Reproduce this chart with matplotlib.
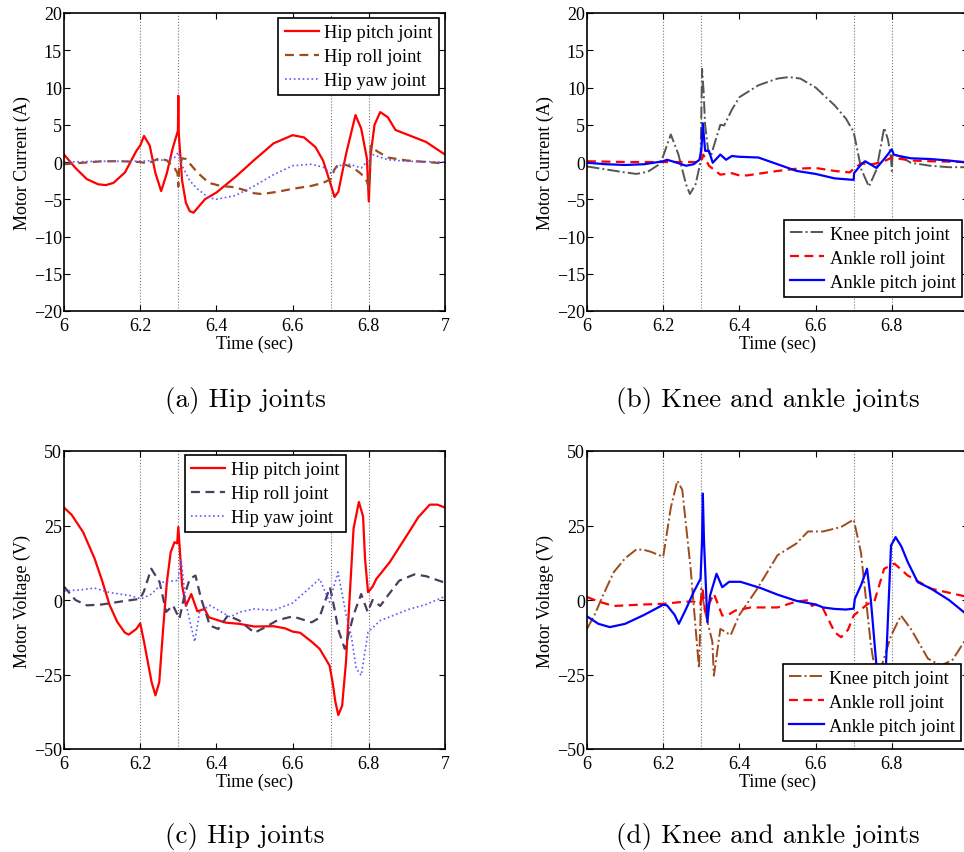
import matplotlib
matplotlib.use("Agg")
import matplotlib.pyplot as plt

plt.rcParams['font.family'] = ['Liberation Serif', 'DejaVu Serif']
plt.rcParams['axes.unicode_minus'] = True

###### data: (a) hip joints, motor current ####################################
a_pitch_t = [6.0, 6.03, 6.06, 6.09, 6.11, 6.13, 6.16, 6.19, 6.2, 6.21, 6.225, 6.24, 6.255, 6.27, 6.285,
             6.299, 6.3, 6.301, 6.31, 6.32, 6.33, 6.34, 6.35, 6.37, 6.4, 6.45, 6.5, 6.55, 6.6, 6.63, 6.66,
             6.68, 6.7, 6.71, 6.72, 6.74, 6.765, 6.78, 6.795, 6.8, 6.805, 6.815, 6.83, 6.85, 6.87, 6.9,
             6.95, 7.0]
a_pitch_v = [1.0, -0.8, -2.3, -3.0, -3.1, -2.8, -1.4, 1.5, 2.2, 3.5, 2.2, -1.5, -3.9, -1.5, 1.8,
             4.2, 8.9, 4.0, -2.5, -5.5, -6.6, -6.8, -6.2, -5.0, -4.1, -2.0, 0.3, 2.5, 3.6, 3.3, 2.0,
             0.2, -3.0, -4.7, -4.0, 1.0, 6.3, 4.5, 0.5, -5.3, 1.0, 5.0, 6.7, 6.0, 4.3, 3.7,
             2.7, 1.0]
a_roll_t = [6.0, 6.05, 6.1, 6.15, 6.2, 6.22, 6.25, 6.27, 6.29, 6.298, 6.3, 6.302, 6.31, 6.32, 6.35,
            6.38, 6.41, 6.45, 6.5, 6.52, 6.56, 6.6, 6.65, 6.68, 6.7, 6.71, 6.72, 6.74, 6.76, 6.78,
            6.795, 6.8, 6.805, 6.82, 6.85, 6.9, 6.95, 7.0]
a_roll_v = [-0.3, -0.1, 0.1, 0.1, 0.0, -0.2, 0.5, 0.2, -0.8, -1.5, -3.3, -1.0, 0.5, 0.4, -1.4,
            -2.8, -3.2, -3.4, -4.2, -4.3, -4.0, -3.6, -3.2, -2.8, -2.3, -1.0, -0.3, -0.4, -0.8, -1.6,
            -2.6, -3.5, 2.2, 1.5, 0.6, 0.2, 0.0, -0.2]
a_yaw_t = [6.0, 6.1, 6.2, 6.27, 6.29, 6.3, 6.31, 6.33, 6.35, 6.38, 6.4, 6.45, 6.5, 6.55, 6.6, 6.65,
           6.68, 6.7, 6.72, 6.75, 6.78, 6.8, 6.81, 6.85, 6.9, 7.0]
a_yaw_v = [0.0, 0.1, 0.1, 0.3, 0.6, 1.3, -0.5, -2.5, -3.6, -4.8, -5.0, -4.5, -3.2, -1.7, -0.5, -0.3,
           -0.7, -1.5, -0.5, -0.3, -0.8, 0.3, 1.0, 0.3, 0.1, 0.0]

###### data: (b) knee and ankle joints, motor current #########################
b_knee_t = [6.0, 6.05, 6.1, 6.13, 6.16, 6.19, 6.2, 6.22, 6.24, 6.26, 6.27, 6.285, 6.298, 6.302, 6.306,
            6.31, 6.318, 6.325, 6.335, 6.35, 6.36, 6.38, 6.4, 6.45, 6.5, 6.53, 6.56, 6.6, 6.65, 6.68,
            6.7, 6.71, 6.72, 6.74, 6.76, 6.78, 6.79, 6.798, 6.8, 6.802, 6.82, 6.85, 6.9, 6.95, 7.0]
b_knee_v = [-0.6, -1.0, -1.4, -1.6, -1.3, -0.3, 0.8, 3.7, 1.0, -3.0, -4.3, -3.0, 0.0, 12.5, 9.5,
            5.0, 1.5, 0.8, 2.5, 5.0, 4.9, 7.0, 8.7, 10.3, 11.2, 11.4, 11.2, 10.0, 7.6, 5.8,
            4.0, 1.5, -1.0, -3.3, -1.0, 4.6, 3.0, 0.5, -1.2, 1.0, 0.8, -0.1, -0.5, -0.7, -0.7]
b_aroll_t = [6.0, 6.1, 6.2, 6.29, 6.3, 6.305, 6.32, 6.35, 6.38, 6.4, 6.42, 6.5, 6.55, 6.6, 6.65, 6.69,
             6.7, 6.72, 6.75, 6.78, 6.8, 6.85, 6.9, 7.0]
b_aroll_v = [0.1, 0.0, 0.0, 0.0, 0.1, 1.0, -0.5, -1.7, -1.5, -1.8, -1.8, -1.2, -0.9, -0.8, -1.2, -1.4,
             -0.9, -0.2, -0.3, 0.1, 0.6, 0.2, 0.1, 0.0]
b_apitch_t = [6.0, 6.05, 6.1, 6.15, 6.2, 6.21, 6.23, 6.26, 6.28, 6.295, 6.3, 6.304, 6.31, 6.32, 6.33,
              6.35, 6.365, 6.38, 6.4, 6.45, 6.5, 6.55, 6.6, 6.65, 6.7, 6.701, 6.72, 6.73, 6.76, 6.78,
              6.8, 6.805, 6.82, 6.85, 6.9, 6.95, 7.0]
b_apitch_v = [-0.1, -0.3, -0.4, -0.3, 0.1, 0.3, 0.0, -0.5, -0.3, 0.3, 1.5, 5.2, 1.5, 1.5, -0.1,
              1.0, 0.3, 0.8, 0.7, 0.6, -0.3, -1.2, -1.6, -2.2, -2.4, -1.5, -0.3, 0.1, -0.8, 0.4,
              1.7, 1.0, 0.8, 0.5, 0.4, 0.2, -0.1]

###### data: (c) hip joints, motor voltage ####################################
c_pitch_t = [6.0, 6.02, 6.05, 6.08, 6.1, 6.12, 6.14, 6.16, 6.17, 6.19, 6.2, 6.21, 6.23, 6.24, 6.25,
             6.26, 6.27, 6.28, 6.29, 6.297, 6.3, 6.305, 6.31, 6.32, 6.334, 6.35, 6.369, 6.38, 6.404,
             6.425, 6.46, 6.5, 6.55, 6.58, 6.6, 6.62, 6.65, 6.671, 6.697, 6.705, 6.712, 6.72, 6.73,
             6.74, 6.75, 6.76, 6.774, 6.785, 6.79, 6.798, 6.81, 6.82, 6.855, 6.908, 6.93, 6.96, 6.98, 7.0]
c_pitch_v = [31, 28.6, 22.8, 14, 6.5, -1.8, -7.4, -11, -11.6, -9.7, -7.8, -14, -27.6, -32, -27.6,
             -10, 6, 16, 19.4, 19, 24.5, 15, 4.9, -2.0, 2.0, -3.8, -3.0, -5.8, -6.8,
             -7.6, -8, -8.9, -8.8, -9.5, -10.6, -11, -14, -16.4, -22, -27.6, -34, -38.6, -35.5,
             -21, 1.5, 24, 32.9, 28, 14, 2.6, 4.5, 7.1, 12.7, 23.3, 27.8, 32, 32, 31]
c_roll_t = [6.0, 6.03, 6.06, 6.1, 6.15, 6.2, 6.21, 6.229, 6.251, 6.268, 6.286, 6.303, 6.316, 6.33,
            6.345, 6.36, 6.383, 6.405, 6.43, 6.46, 6.5, 6.53, 6.56, 6.6, 6.65, 6.67, 6.698, 6.71,
            6.72, 6.737, 6.76, 6.78, 6.797, 6.81, 6.83, 6.85, 6.88, 6.92, 6.95, 7.0]
c_roll_v = [4.5, 0.0, -1.8, -1.5, -0.5, 0.4, 3.0, 10.5, 6.0, -4.0, -1.8, -6.3, 1.5, 7.1,
            8.2, 0.4, -8.6, -9.7, -5.2, -6.9, -11.0, -9.0, -6.8, -5.5, -7.5, -6.0, 4.3, -3.0,
            -10.0, -16.4, -5.0, 2.0, -4.0, 0.0, -2.0, 1.5, 6.5, 8.6, 8.0, 5.8]
c_yaw_t = [6.0, 6.05, 6.08, 6.12, 6.172, 6.203, 6.23, 6.26, 6.3, 6.307, 6.321, 6.343, 6.356, 6.383,
           6.436, 6.462, 6.5, 6.55, 6.6, 6.64, 6.671, 6.697, 6.719, 6.741, 6.754, 6.767, 6.78, 6.798,
           6.83, 6.908, 6.95, 7.0]
c_yaw_v = [3.0, 3.5, 4.0, 2.5, 1.5, 0.4, 2.0, 6.0, 6.6, 13.8, -1.8, -14.0, -4.0, -1.8,
           -5.7, -4.0, -3.0, -3.5, -1.0, 3.5, 7.1, -0.7, 9.4, -5.2, -12.0, -23.0, -25.3, -10.8,
           -6.9, -3.0, -1.5, 1.2]

###### data: (d) knee and ankle joints, motor voltage #########################
d_knee_t = [6.0, 6.02, 6.04, 6.07, 6.1, 6.13, 6.15, 6.167, 6.2, 6.22, 6.237, 6.25, 6.272, 6.294, 6.3,
            6.31, 6.329, 6.333, 6.35, 6.363, 6.377, 6.4, 6.447, 6.5, 6.55, 6.58, 6.62, 6.667, 6.7,
            6.719, 6.745, 6.76, 6.776, 6.798, 6.824, 6.85, 6.895, 6.93, 6.96, 7.0]
d_knee_v = [-9.7, -5, 1, 9.3, 14, 17, 16.8, 16.2, 14.5, 31, 40, 37, 10.5, -23, 3.8,
            -4, -14, -25.4, -9.7, -10.7, -11.8, -5, 3.8, 15, 19, 23, 23, 24.5, 27,
            16, -15, -27, -21, -12, -5.2, -9.7, -19.7, -22, -20, -12]
d_aroll_t = [6.0, 6.03, 6.07, 6.15, 6.2, 6.253, 6.28, 6.297, 6.304, 6.31, 6.333, 6.355, 6.37, 6.39,
             6.43, 6.5, 6.55, 6.585, 6.59, 6.6, 6.62, 6.65, 6.667, 6.685, 6.7, 6.737, 6.754, 6.78,
             6.807, 6.842, 6.903, 7.0]
d_aroll_v = [1, -0.5, -2, -1.5, -1.3, -0.6, -0.5, -1.6, 3.2, -4, 2.1, -5.2, -5, -3.5,
             -2.5, -2.5, -0.5, 0, -2, -1.5, -3, -10.8, -12.5, -10, -5.2, -1.3, -0.6, 10.5,
             12.2, 8.2, 3.8, 1]
d_apitch_t = [6.0, 6.03, 6.06, 6.1, 6.15, 6.2, 6.21, 6.23, 6.241, 6.26, 6.28, 6.298, 6.302, 6.304,
              6.307, 6.316, 6.323, 6.34, 6.355, 6.373, 6.403, 6.456, 6.5, 6.55, 6.6, 6.62, 6.65,
              6.68, 6.7, 6.703, 6.719, 6.735, 6.745, 6.759, 6.772, 6.785, 6.798, 6.81, 6.825, 6.842,
              6.868, 6.903, 6.95, 7.0]
d_apitch_v = [-5.5, -8, -9.1, -8, -5, -1.6, -1.8, -5, -8, -3, 2.7, 7.1, 20, 35.7,
              20, -7.4, 1.5, 8.8, 4.3, 6.1, 6.1, 4, 1.8, -0.3, -1.5, -2.5, -3,
              -3.2, -2.9, 0.4, 4.9, 10.5, 0, -21, -32, -21, 18.3, 21.1, 18, 12.7,
              6, 3.8, 0, -5.2]

events = [6.2, 6.3, 6.7, 6.8]
captions = ['(a) Hip joints', '(b) Knee and ankle joints', '(c) Hip joints', '(d) Knee and ankle joints']

RED = '#ff0000'
BLUE = '#0000ff'
LBLUE = '#5a5aff'
BROWN = '#9e4a1c'
GRAY = '#555555'
PURPLE = '#4e3c5e'

fig = plt.figure(figsize=(9.64, 8.53), dpi=100)
W, H = 964.0, 853.0


def make_ax(x0, x1, y0, y1):
    return fig.add_axes([x0 / W, 1 - y1 / H, (x1 - x0) / W, (y1 - y0) / H])


ax_a = make_ax(64, 445, 14, 312)
ax_b = make_ax(587, 968, 14, 312)
ax_c = make_ax(64, 445, 452, 750)
ax_d = make_ax(587, 968, 452, 750)


def style(ax, ylim, yticks, ylabel):
    for t in events:
        ax.axvline(t, color='#777777', ls=':', lw=0.8, zorder=1)
    ax.set_xlim(6, 7)
    ax.set_ylim(*ylim)
    ax.set_xticks([6, 6.2, 6.4, 6.6, 6.8, 7])
    ax.set_xticklabels(['6', '6.2', '6.4', '6.6', '6.8', '7'])
    ax.set_yticks(yticks)
    ax.tick_params(direction='in', top=True, right=True, labelsize=13, length=4, width=0.8)
    ax.tick_params(axis='x', pad=4.5)
    ax.tick_params(axis='y', pad=1.5)
    for s in ax.spines.values():
        s.set_linewidth(1.2)
    ax.set_xlabel('Time (sec)', fontsize=13, labelpad=0)
    ax.set_ylabel(ylabel, fontsize=13, labelpad=2)


def legend(ax, **kw):
    lg = ax.legend(fontsize=13.3, fancybox=False, framealpha=1, edgecolor='black',
                   handlelength=1.85, borderpad=0.33, labelspacing=0.38, handletextpad=0.3,
                   borderaxespad=0, **kw)
    lg.get_frame().set_linewidth(1.2)
    lg.set_zorder(10)


# (a)
ax_a.plot(a_pitch_t, a_pitch_v, color=RED, lw=1.6, label='Hip pitch joint')
ax_a.plot(a_roll_t, a_roll_v, color=BROWN, lw=1.6, ls=(0, (4, 2.5)), label='Hip roll joint')
ax_a.plot(a_yaw_t, a_yaw_v, color=LBLUE, lw=1.2, ls=':', label='Hip yaw joint')
style(ax_a, (-20, 20), range(-20, 21, 5), 'Motor Current (A)')
legend(ax_a, loc='upper right', bbox_to_anchor=(0.984, 0.983))

# (b)
ax_b.plot(b_knee_t, b_knee_v, color=GRAY, lw=1.4, ls='-.', label='Knee pitch joint')
ax_b.plot(b_aroll_t, b_aroll_v, color=RED, lw=1.6, ls=(0, (4, 2.5)), label='Ankle roll joint')
ax_b.plot(b_apitch_t, b_apitch_v, color=BLUE, lw=1.6, label='Ankle pitch joint')
style(ax_b, (-20, 20), range(-20, 21, 5), 'Motor Current (A)')
legend(ax_b, loc='lower right', bbox_to_anchor=(0.984, 0.047))

# (c)
ax_c.plot(c_pitch_t, c_pitch_v, color=RED, lw=1.6, label='Hip pitch joint')
ax_c.plot(c_roll_t, c_roll_v, color=PURPLE, lw=1.6, ls=(0, (4, 2.5)), label='Hip roll joint')
ax_c.plot(c_yaw_t, c_yaw_v, color=LBLUE, lw=1.2, ls=':', label='Hip yaw joint')
style(ax_c, (-50, 50), [-50, -25, 0, 25, 50], 'Motor Voltage (V)')
legend(ax_c, loc='upper left', bbox_to_anchor=(0.318, 0.987))

# (d)
ax_d.plot(d_knee_t, d_knee_v, color=BROWN, lw=1.4, ls='-.', label='Knee pitch joint')
ax_d.plot(d_aroll_t, d_aroll_v, color=RED, lw=1.6, ls=(0, (4, 2.5)), label='Ankle roll joint')
ax_d.plot(d_apitch_t, d_apitch_v, color=BLUE, lw=1.6, label='Ankle pitch joint')
style(ax_d, (-50, 50), [-50, -25, 0, 25, 50], 'Motor Voltage (V)')
legend(ax_d, loc='lower right', bbox_to_anchor=(0.982, 0.027))

# sub-figure captions
cap_pos = [(245, 401), (768, 401), (245, 837), (768, 837)]
for (cx, cy), txt in zip(cap_pos, captions):
    fig.text(cx / W, 1 - cy / H, txt, family='cmr10', fontsize=19.5, ha='center', va='center')

fig.savefig('out.png', dpi=100)
